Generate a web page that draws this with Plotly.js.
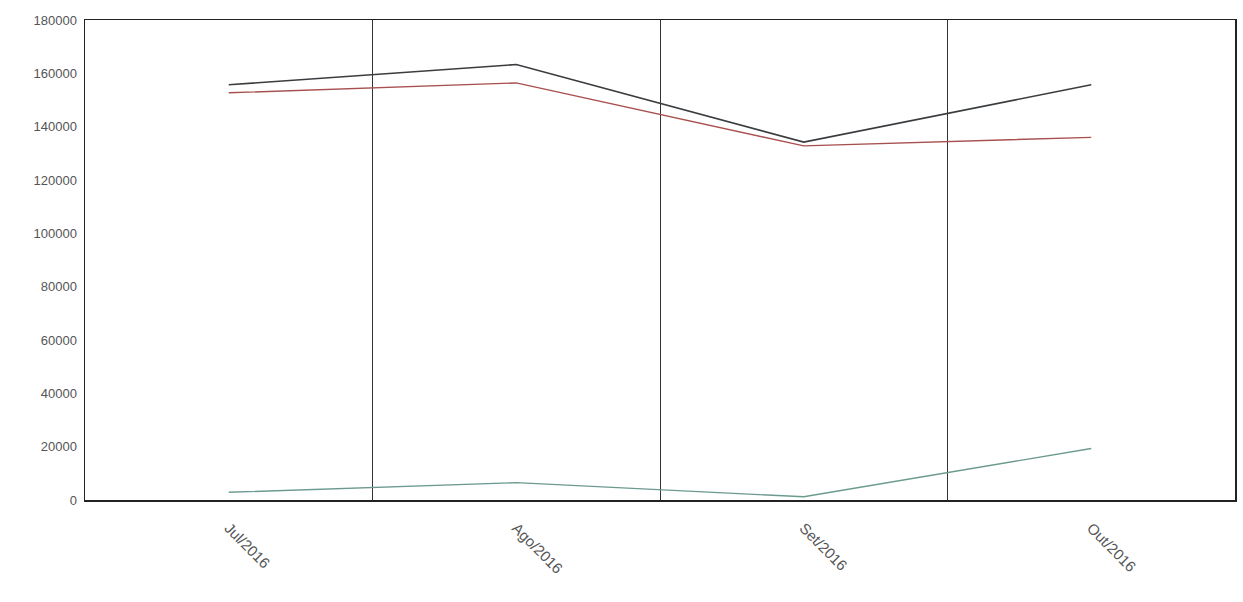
<!DOCTYPE html>
<html>
<head>
<meta charset="utf-8">
<script src="https://cdn.plot.ly/plotly-3.0.1.min.js"></script>
<style>html,body{margin:0;padding:0;background:#fff;}#chart{width:1243px;height:602px;}</style>
</head>
<body>
<div id="chart"></div>
<script>
const months = ["Jul/2016", "Ago/2016", "Set/2016", "Out/2016"];
const totalSeries = [155700, 163300, 134200, 155700];
const redSeries = [152700, 156400, 132800, 136000];
const tealSeries = [2900, 6500, 1200, 19300];
const yTicks = [0, 20000, 40000, 60000, 80000, 100000, 120000, 140000, 160000, 180000];

const traces = [
  {x: months, y: totalSeries, type: "scatter", mode: "lines", name: "Total",
   line: {color: "#3a3d40", width: 1.6}},
  {x: months, y: redSeries, type: "scatter", mode: "lines", name: "Série 2",
   line: {color: "#a8504f", width: 1.4}},
  {x: months, y: tealSeries, type: "scatter", mode: "lines", name: "Série 3",
   line: {color: "#6c9a90", width: 1.4}}
];

const layout = {
  width: 1243, height: 602,
  margin: {l: 85, r: 8, t: 20, b: 102},
  paper_bgcolor: "#ffffff", plot_bgcolor: "#ffffff",
  showlegend: false,
  font: {family: "Liberation Sans, Arial, sans-serif", size: 13, color: "#555"},
  xaxis: {
    type: "category", range: [-0.5, 3.5],
    tickson: "boundaries", showgrid: true, gridcolor: "#333", gridwidth: 1,
    ticks: "", tickangle: 45, ticklen: 0, ticklabelstandoff: 12,
    showline: true, linecolor: "#222", linewidth: 1.5, mirror: true,
    tickfont: {size: 15, color: "#555"}, zeroline: false
  },
  yaxis: {
    range: [0, 180000], tickvals: yTicks, ticktext: yTicks.map(String),
    showgrid: false, zeroline: false, ticks: "", ticklabelstandoff: 4,
    showline: true, linecolor: "#222", linewidth: 1.5, mirror: true,
    tickfont: {size: 13, color: "#555"}
  }
};

Plotly.newPlot("chart", traces, layout, {displayModeBar: false, staticPlot: true});
</script>
</body>
</html>
